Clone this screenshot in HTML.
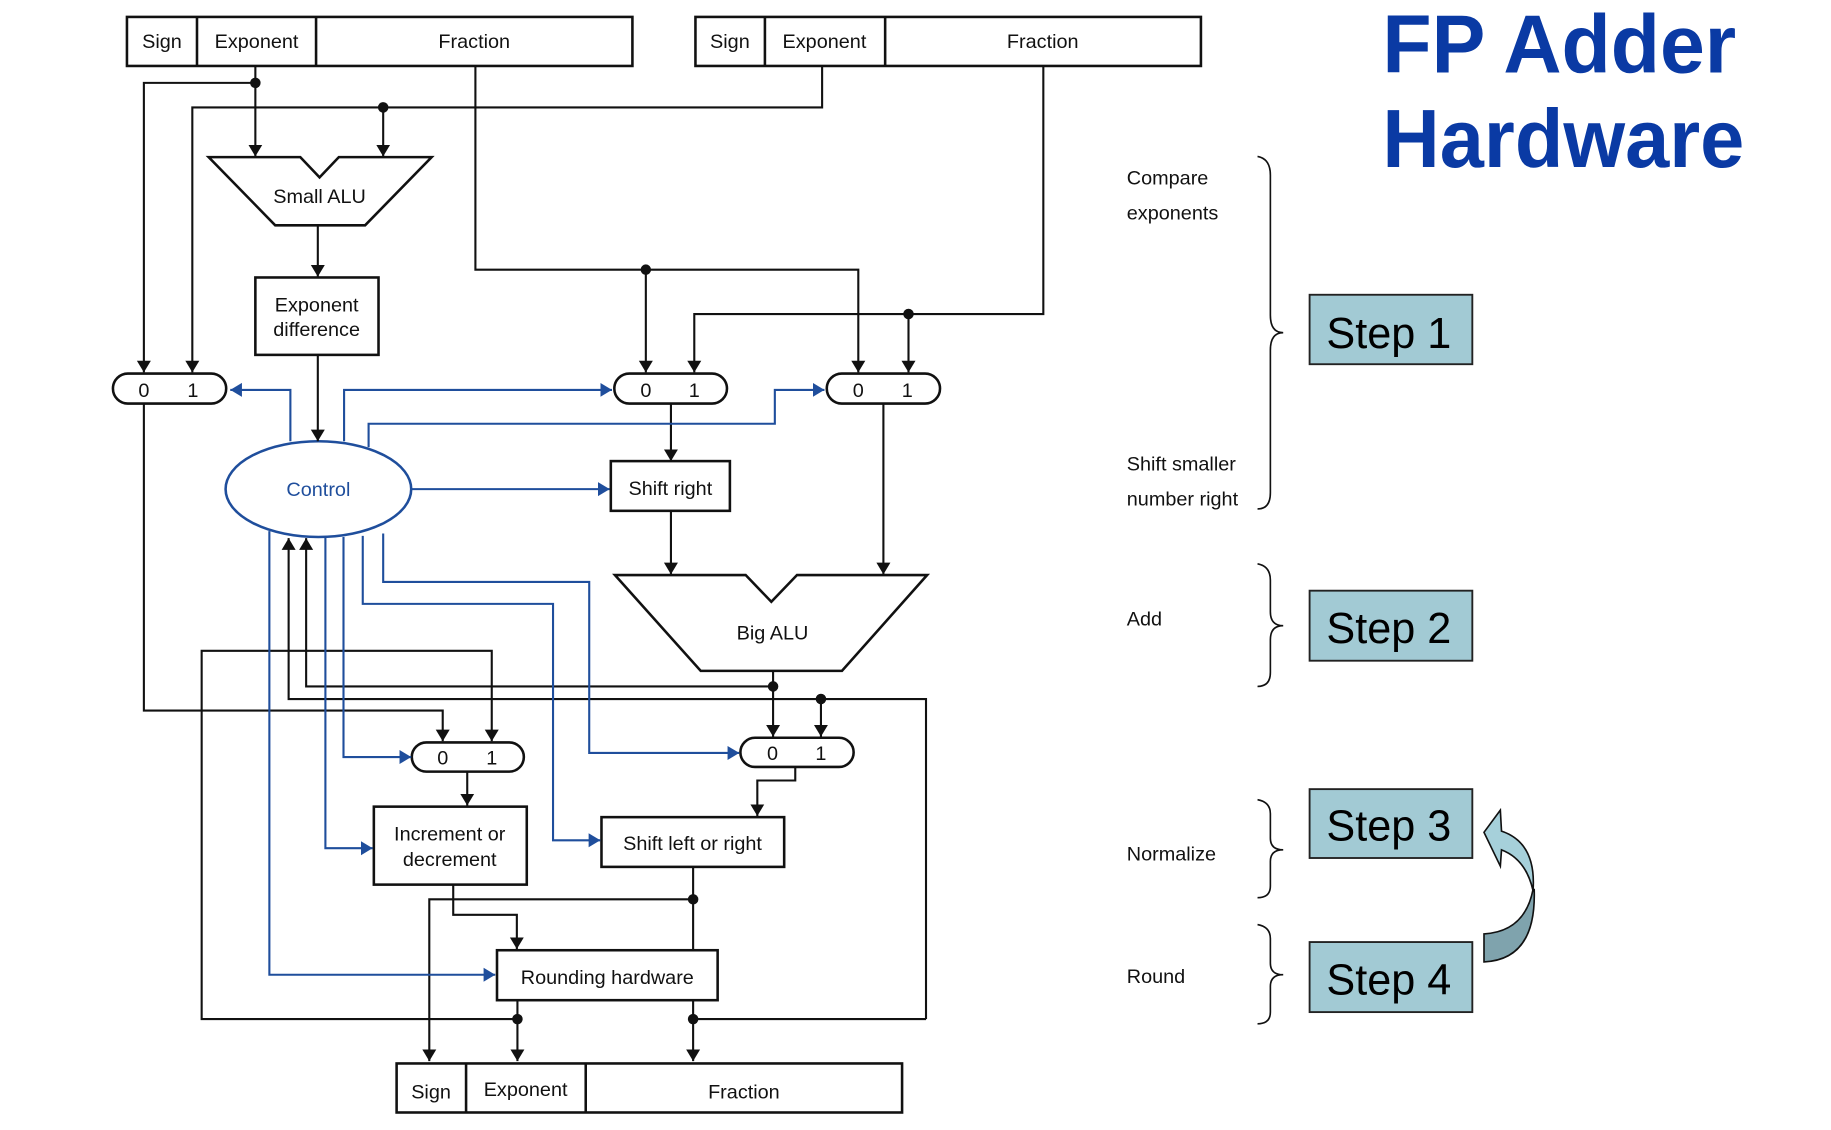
<!DOCTYPE html>
<html><head><meta charset="utf-8"><style>
html,body{margin:0;padding:0;background:#fff;}
svg{display:block;}
text{font-family:"Liberation Sans",sans-serif;}
</style></head><body>
<svg width="1831" height="1130" viewBox="0 0 1568 968" xmlns="http://www.w3.org/2000/svg">
<defs>
<marker id="ak" markerWidth="10" markerHeight="16" refX="10" refY="8" orient="auto" markerUnits="userSpaceOnUse"><path d="M0,2 L10,8 L0,14 Z" fill="#111"/></marker>
<marker id="ab" markerWidth="10" markerHeight="16" refX="10" refY="8" orient="auto" markerUnits="userSpaceOnUse"><path d="M0,2 L10,8 L0,14 Z" fill="#1f4e9c"/></marker>
</defs>
<rect width="1568" height="968" fill="#fff"/>

<!-- top registers -->
<g fill="none" stroke="#111" stroke-width="2.2">
<rect x="108.5" y="14.5" width="433" height="42"/>
<line x1="168.5" y1="14.5" x2="168.5" y2="56.5"/><line x1="270.5" y1="14.5" x2="270.5" y2="56.5"/>
<rect x="595.5" y="14.5" width="433" height="42"/>
<line x1="655" y1="14.5" x2="655" y2="56.5"/><line x1="758" y1="14.5" x2="758" y2="56.5"/>
<rect x="339.5" y="911" width="433" height="42"/>
<line x1="399" y1="911" x2="399" y2="953"/><line x1="501.5" y1="911" x2="501.5" y2="953"/>
</g>
<g font-size="17" fill="#111" text-anchor="middle">
<text x="138.5" y="41">Sign</text><text x="219.5" y="41">Exponent</text><text x="406" y="41">Fraction</text>
<text x="625" y="41">Sign</text><text x="706" y="41">Exponent</text><text x="893" y="41">Fraction</text>
<text x="369" y="941">Sign</text><text x="450" y="939">Exponent</text><text x="637" y="941">Fraction</text>
</g>

<!-- shapes -->
<g fill="none" stroke="#111" stroke-width="2.2">
<path d="M178.5,134.6 L257,134.6 L273.5,152 L290,134.6 L369.5,134.6 L312.5,193 L235.5,193 Z"/>
<rect x="218.5" y="237.7" width="105.5" height="66.3"/>
<path d="M526.5,492.6 L638.5,492.6 L660.5,515.5 L682.5,492.6 L794,492.6 L721,574.7 L600,574.7 Z"/>
<rect x="523" y="395" width="102" height="42.6"/>
<rect x="320" y="691" width="131" height="66.8"/>
<rect x="515" y="700" width="156.5" height="42.6"/>
<rect x="425.5" y="814" width="189" height="42.8"/>
<rect x="96.5" y="320" width="97" height="25.7" rx="12.8"/>
<rect x="526" y="320" width="96.5" height="25.7" rx="12.8"/>
<rect x="708" y="320" width="97" height="25.7" rx="12.8"/>
<rect x="352.5" y="636" width="96" height="25" rx="12.5"/>
<rect x="634" y="632" width="97" height="25" rx="12.5"/>
</g>
<ellipse cx="272.5" cy="419" rx="79.5" ry="41" fill="none" stroke="#1f4e9c" stroke-width="2.2"/>
<g font-size="17" fill="#111" text-anchor="middle">
<text x="273.5" y="174">Small ALU</text>
<text x="271" y="267">Exponent</text><text x="271" y="288">difference</text>
<text x="574" y="424">Shift right</text>
<text x="661.5" y="548">Big ALU</text>
<text x="385" y="720">Increment or</text><text x="385" y="742">decrement</text>
<text x="593" y="728">Shift left or right</text>
<text x="520" y="843">Rounding hardware</text>
<text x="123" y="340">0</text><text x="165" y="340">1</text>
<text x="553" y="340">0</text><text x="594.5" y="340">1</text>
<text x="735" y="340">0</text><text x="777" y="340">1</text>
<text x="379" y="655">0</text><text x="421" y="655">1</text>
<text x="661.5" y="651">0</text><text x="703" y="651">1</text>
</g>
<text x="272.5" y="425" font-size="17" fill="#1f4e9c" text-anchor="middle">Control</text>

<!-- black wires -->
<g fill="none" stroke="#111" stroke-width="1.8">
<path d="M218.5,56.5 L218.5,134" marker-end="url(#ak)"/>
<path d="M218.5,71 L123,71 L123,319" marker-end="url(#ak)"/>
<path d="M704,56.5 L704,92 L164.5,92 L164.5,319" marker-end="url(#ak)"/>
<path d="M328,92 L328,134" marker-end="url(#ak)"/>
<path d="M272,193 L272,237" marker-end="url(#ak)"/>
<path d="M272,304 L272,378" marker-end="url(#ak)"/>
<path d="M407,56.5 L407,231 L735,231 L735,319" marker-end="url(#ak)"/>
<path d="M553,231 L553,319" marker-end="url(#ak)"/>
<path d="M893.5,56.5 L893.5,269 L594.5,269 L594.5,319" marker-end="url(#ak)"/>
<path d="M778,269 L778,319" marker-end="url(#ak)"/>
<path d="M574.5,346 L574.5,395" marker-end="url(#ak)"/>
<path d="M574.5,437.6 L574.5,492" marker-end="url(#ak)"/>
<path d="M756.5,346 L756.5,492" marker-end="url(#ak)"/>
<path d="M662,574.7 L662,631" marker-end="url(#ak)"/>
<path d="M662,588 L262,588 L262,461" marker-end="url(#ak)"/>
<path d="M793,873 L793,598.8 L247,598.8 L247,461" marker-end="url(#ak)"/>
<path d="M703,598.8 L703,631" marker-end="url(#ak)"/>
<path d="M123,346 L123,608.7 L379,608.7 L379,635" marker-end="url(#ak)"/>
<path d="M443,873 L172.5,873 L172.5,557.5 L421,557.5 L421,635" marker-end="url(#ak)"/>
<path d="M681,657 L681,668.6 L648.5,668.6 L648.5,699" marker-end="url(#ak)"/>
<path d="M400,661 L400,690" marker-end="url(#ak)"/>
<path d="M388,758 L388,783.7 L442.5,783.7 L442.5,813" marker-end="url(#ak)"/>
<path d="M593.5,742.6 L593.5,814"/>
<path d="M593.5,770.4 L367.5,770.4 L367.5,909" marker-end="url(#ak)"/>
<path d="M443,857 L443,909" marker-end="url(#ak)"/>
<path d="M593.5,857 L593.5,909" marker-end="url(#ak)"/>
<path d="M593.5,873 L793,873"/>
</g>
<g fill="#111">
<circle cx="218.5" cy="71" r="4.5"/><circle cx="328" cy="92" r="4.5"/>
<circle cx="553" cy="231" r="4.5"/><circle cx="778" cy="269" r="4.5"/>
<circle cx="662" cy="588" r="4.5"/><circle cx="703" cy="598.8" r="4.5"/>
<circle cx="593.5" cy="770.4" r="4.5"/><circle cx="443" cy="873" r="4.5"/><circle cx="593.5" cy="873" r="4.5"/>
</g>

<!-- blue wires -->
<g fill="none" stroke="#1f4e9c" stroke-width="1.8">
<path d="M248.5,378 L248.5,334 L197,334" marker-end="url(#ab)"/>
<path d="M294.5,378 L294.5,334 L524,334" marker-end="url(#ab)"/>
<path d="M315.5,383 L315.5,363 L663.5,363 L663.5,334 L706,334" marker-end="url(#ab)"/>
<path d="M352,419 L522,419" marker-end="url(#ab)"/>
<path d="M328,457 L328,498.5 L504.5,498.5 L504.5,645 L633,645" marker-end="url(#ab)"/>
<path d="M310.5,459 L310.5,517.3 L473.5,517.3 L473.5,719.8 L514,719.8" marker-end="url(#ab)"/>
<path d="M294,460 L294,648.5 L352,648.5" marker-end="url(#ab)"/>
<path d="M278.5,460 L278.5,726.6 L319,726.6" marker-end="url(#ab)"/>
<path d="M230.5,455 L230.5,835 L424,835" marker-end="url(#ab)"/>
</g>

<!-- right side -->
<g font-size="17" fill="#111">
<text x="965" y="158">Compare</text><text x="965" y="188">exponents</text>
<text x="965" y="403">Shift smaller</text><text x="965" y="433">number right</text>
<text x="965" y="536">Add</text>
<text x="965" y="737">Normalize</text>
<text x="965" y="842">Round</text>
</g>
<g fill="none" stroke="#111" stroke-width="1.4">
<path d="M1077,134 Q1088,136 1088,150 L1088,270 Q1088,285 1099,285 Q1088,285 1088,300 L1088,422 Q1088,436 1077,436"/>
<path d="M1077,483 Q1088,485 1088,497 L1088,524 Q1088,536 1099,536 Q1088,536 1088,548 L1088,576 Q1088,588 1077,588"/>
<path d="M1077,685 Q1088,687 1088,697 L1088,718 Q1088,728 1099,728 Q1088,728 1088,738 L1088,759 Q1088,769 1077,769"/>
<path d="M1077,792 Q1088,794 1088,804 L1088,825 Q1088,835 1099,835 Q1088,835 1088,845 L1088,867 Q1088,877 1077,877"/>
</g>
<g fill="#a2cad4" stroke="#222" stroke-width="1.6">
<rect x="1121.6" y="252.5" width="139.4" height="59.5"/>
<rect x="1121.6" y="506" width="139.4" height="60"/>
<rect x="1121.6" y="676" width="139.4" height="59"/>
<rect x="1121.6" y="807" width="139.4" height="60"/>
</g>
<g font-size="37" fill="#000">
<text x="1136" y="298">Step 1</text>
<text x="1136" y="551">Step 2</text>
<text x="1136" y="720">Step 3</text>
<text x="1136" y="852">Step 4</text>
</g>
<path d="M1285,694 L1271,713 L1285,742 L1286,728 Q1307,736 1313,763 Q1316,722 1286,712 Z" fill="#a6d0da" stroke="#111" stroke-width="1.4"/>
<path d="M1313,762 Q1306,798 1271,800 L1271,824 Q1316,822 1314,762 Z" fill="#7fa3ad" stroke="#111" stroke-width="1.4"/>

<g font-size="71" font-weight="bold" fill="#0a3aa4">
<text x="1184" y="62" textLength="303" lengthAdjust="spacingAndGlyphs">FP Adder</text>
<text x="1184" y="143" textLength="310" lengthAdjust="spacingAndGlyphs">Hardware</text>
</g>
</svg>
</body></html>
